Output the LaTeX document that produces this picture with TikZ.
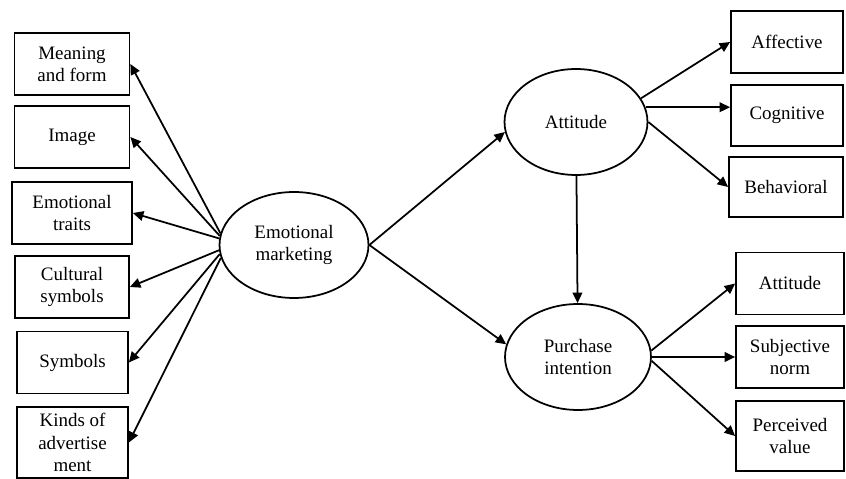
\documentclass[tikz,border=0pt]{standalone}
\usepackage{fontspec}
\setmainfont{Liberation Serif}
\usepackage{tikz}
\usetikzlibrary{arrows.meta, positioning, shapes.geometric}

\begin{document}
\begin{tikzpicture}[
			x=0.02cm, y=-0.02cm,
			every node/.style={font=\fontsize{10.8}{12.6}\selectfont},
			box/.style={
				rectangle, draw, line width=1pt,
				align=center, minimum width=2.3cm, minimum height=1.24cm, inner sep=1pt
			},
			oval/.style={
				ellipse, draw, line width=1pt, align=center,
				minimum width=2.98cm, minimum height=2.12cm, inner sep=0pt
			},
			arrow/.style={
				-{Triangle[length=6pt,width=5.5pt]},
				line width=1pt
			}
			]
			\useasboundingbox (0,0) rectangle (846,479);
			
			% left column
			\node[box] (meaning) at (72,64) {Meaning\\and form};
			\node[box] (image) at (72,137) {Image};
			\node[box, minimum width=2.4cm] (traits) at (72,213) {Emotional\\traits};
			\node[box, minimum width=2.28cm] (cultural) at (72,287) {Cultural\\symbols};
			\node[box, minimum width=2.22cm] (symbols) at (72.5,362.5) {Symbols};
			\node[box, minimum width=2.22cm, minimum height=1.42cm] (kinds) at (72.5,442.5) {Kinds of\\advertise\\ment};
			
			% ellipses
			\node[oval] (emo) at (294,245) {Emotional\\marketing};
			\node[oval, minimum width=2.86cm] (att) at (576,122) {Attitude};
			\node[oval, minimum width=2.92cm] (pur) at (578,357) {Purchase\\intention};
			
			% right column
			\node[box, minimum width=2.24cm] (affective) at (787,42) {Affective};
			\node[box, minimum width=2.24cm, minimum height=1.22cm] (cognitive) at (787,115.5) {Cognitive};
			\node[box, minimum width=2.28cm, minimum height=1.2cm] (behavioral) at (786,187) {Behavioral};
			\node[box, minimum width=2.16cm] (attitude) at (790,283.5) {Attitude};
			\node[box, minimum width=2.16cm] (subjective) at (790,357) {Subjective\\norm};
			\node[box, minimum width=2.16cm, minimum height=1.4cm] (perceived) at (790,436) {Perceived\\value};
			
			\draw[arrow] (emo.171) -- (meaning.east);
			\draw[arrow] (emo.173) -- (image.east);
			\draw[arrow] (emo.175) -- (traits.east);
			\draw[arrow] (emo.184) -- (cultural.east);
			\draw[arrow] (emo.187) -- (symbols.east);
			\draw[arrow] (emo.190) -- (kinds.east);
			
			\draw[arrow] (emo.east) -- (att.188);
			\draw[arrow] (emo.east) -- (pur.170);
			\draw[arrow] (att) -- (pur);
			
			\draw[arrow] (att.20) -- (affective.west);
			\draw[arrow] (att.12) -- (att.12 -| cognitive.west);
			\draw[arrow] (att.east) -- (behavioral.west);
			
			\draw[arrow] (pur.5) -- (attitude.west);
			\draw[arrow] (pur.east) -- (subjective.west);
			\draw[arrow] (pur.-3) -- (perceived.west);
		\end{tikzpicture}
\end{document}
